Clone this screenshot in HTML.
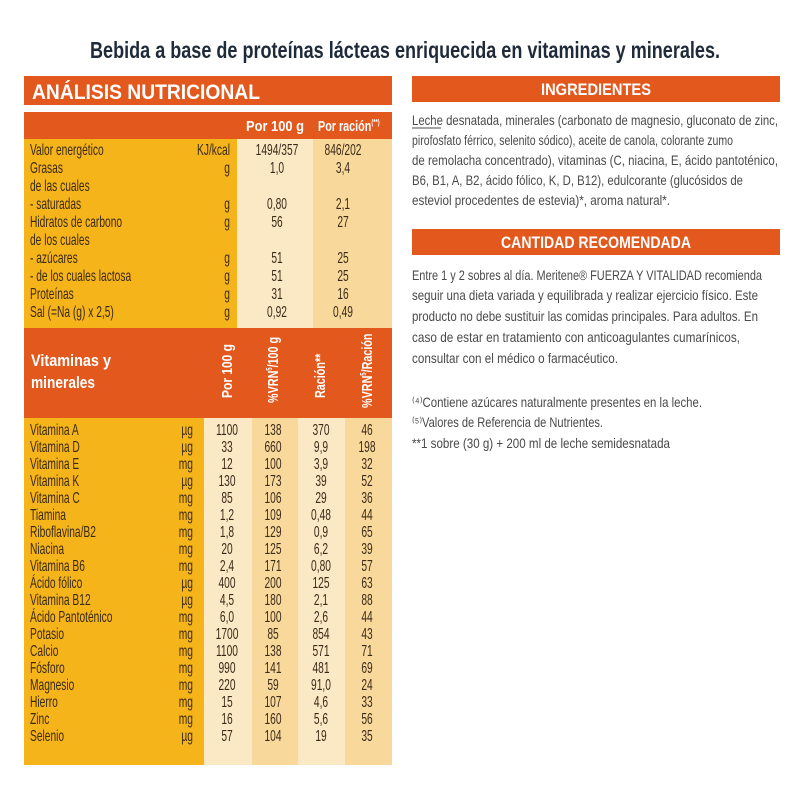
<!DOCTYPE html>
<html><head><meta charset="utf-8"><style>
html,body{margin:0;padding:0;background:#fff}
svg{display:block}
text{font-family:"Liberation Sans",sans-serif}
.t{fill:#3a2a18;font-size:15.5px}
.g{fill:#4a4a4a;font-size:14px}
.w{fill:#fff;font-weight:bold}
</style></head><body>
<svg width="800" height="800" viewBox="0 0 800 800" xmlns="http://www.w3.org/2000/svg">
<text x="405" y="58" text-anchor="middle" font-size="23" font-weight="bold" fill="#1f2b3a" textLength="630" lengthAdjust="spacingAndGlyphs">Bebida a base de proteínas lácteas enriquecida en vitaminas y minerales.</text>

<rect x="24" y="76" width="368" height="29" fill="#e2581d"/>
<text class="w" x="32" y="99" font-size="21" textLength="228" lengthAdjust="spacingAndGlyphs">ANÁLISIS NUTRICIONAL</text>

<rect x="24" y="112" width="368" height="27" fill="#e2581d"/>
<rect x="24" y="139" width="368" height="189" fill="#f6b41b"/>
<rect x="237" y="139" width="76" height="189" fill="#fbe8c4"/>
<rect x="313" y="139" width="79" height="189" fill="#f9d89c"/>
<text class="w" x="275" y="131" font-size="15" text-anchor="middle" textLength="58" lengthAdjust="spacingAndGlyphs">Por 100 g</text>
<g transform="translate(318,131) scale(.72,1)"><text class="w" font-size="15">Por ración<tspan font-size="8" dy="-6">(**)</tspan></text></g>

<g class="t">
<g transform="translate(30,0) scale(.66,1)">
<text y="155">Valor energético</text><text y="173">Grasas</text><text y="191">de las cuales</text><text y="209">- saturadas</text><text y="227">Hidratos de carbono</text><text y="245">de los cuales</text><text y="263">- azúcares</text><text y="281">- de los cuales lactosa</text><text y="299">Proteínas</text><text y="317">Sal (=Na (g) x 2,5)</text>
</g>
<g transform="translate(230,0) scale(.66,1)" text-anchor="end">
<text y="155">KJ/kcal</text><text y="173">g</text><text y="209">g</text><text y="227">g</text><text y="263">g</text><text y="281">g</text><text y="299">g</text><text y="317">g</text>
</g>
<g transform="translate(277,0) scale(.66,1)" text-anchor="middle">
<text y="155">1494/357</text><text y="173">1,0</text><text y="209">0,80</text><text y="227">56</text><text y="263">51</text><text y="281">51</text><text y="299">31</text><text y="317">0,92</text>
</g>
<g transform="translate(343,0) scale(.66,1)" text-anchor="middle">
<text y="155">846/202</text><text y="173">3,4</text><text y="209">2,1</text><text y="227">27</text><text y="263">25</text><text y="281">25</text><text y="299">16</text><text y="317">0,49</text>
</g>
</g>

<rect x="24" y="328" width="368" height="90" fill="#e2581d"/>
<rect x="24" y="418" width="368" height="347" fill="#f6b41b"/>
<rect x="204" y="418" width="48" height="347" fill="#fbe8c4"/>
<rect x="252" y="418" width="46" height="347" fill="#f9d89c"/>
<rect x="298" y="418" width="47" height="347" fill="#fbe8c4"/>
<rect x="345" y="418" width="47" height="347" fill="#f9d89c"/>
<text class="w" x="31" y="366" font-size="17" textLength="80" lengthAdjust="spacingAndGlyphs">Vitaminas y</text>
<text class="w" x="31" y="388" font-size="17" textLength="64" lengthAdjust="spacingAndGlyphs">minerales</text>
<g transform="translate(232,398) rotate(-90) scale(.8,1)"><text class="w" font-size="15">Por 100 g</text></g>
<g transform="translate(278,403) rotate(-90) scale(.72,1)"><text class="w" font-size="15">%VRN<tspan font-size="8" dy="-6">5</tspan><tspan dy="6">/100 g</tspan></text></g>
<g transform="translate(325,398) rotate(-90) scale(.72,1)"><text class="w" font-size="15">Ración**</text></g>
<g transform="translate(372,408) rotate(-90) scale(.72,1)"><text class="w" font-size="15">%VRN<tspan font-size="8" dy="-6">5</tspan><tspan dy="6">/Ración</tspan></text></g>

<g class="t">
<g transform="translate(30,0) scale(.66,1)">
<text y="435">Vitamina A</text><text y="452">Vitamina D</text><text y="469">Vitamina E</text><text y="486">Vitamina K</text><text y="503">Vitamina C</text><text y="520">Tiamina</text><text y="537">Riboflavina/B2</text><text y="554">Niacina</text><text y="571">Vitamina B6</text><text y="588">Ácido fólico</text><text y="605">Vitamina B12</text><text y="622">Ácido Pantoténico</text><text y="639">Potasio</text><text y="656">Calcio</text><text y="673">Fósforo</text><text y="690">Magnesio</text><text y="707">Hierro</text><text y="724">Zinc</text><text y="741">Selenio</text>
</g>
<g transform="translate(193,0) scale(.66,1)" text-anchor="end">
<text y="435">µg</text><text y="452">µg</text><text y="469">mg</text><text y="486">µg</text><text y="503">mg</text><text y="520">mg</text><text y="537">mg</text><text y="554">mg</text><text y="571">mg</text><text y="588">µg</text><text y="605">µg</text><text y="622">mg</text><text y="639">mg</text><text y="656">mg</text><text y="673">mg</text><text y="690">mg</text><text y="707">mg</text><text y="724">mg</text><text y="741">µg</text>
</g>
<g transform="translate(227,0) scale(.66,1)" text-anchor="middle">
<text y="435">1100</text><text y="452">33</text><text y="469">12</text><text y="486">130</text><text y="503">85</text><text y="520">1,2</text><text y="537">1,8</text><text y="554">20</text><text y="571">2,4</text><text y="588">400</text><text y="605">4,5</text><text y="622">6,0</text><text y="639">1700</text><text y="656">1100</text><text y="673">990</text><text y="690">220</text><text y="707">15</text><text y="724">16</text><text y="741">57</text>
</g>
<g transform="translate(273,0) scale(.66,1)" text-anchor="middle">
<text y="435">138</text><text y="452">660</text><text y="469">100</text><text y="486">173</text><text y="503">106</text><text y="520">109</text><text y="537">129</text><text y="554">125</text><text y="571">171</text><text y="588">200</text><text y="605">180</text><text y="622">100</text><text y="639">85</text><text y="656">138</text><text y="673">141</text><text y="690">59</text><text y="707">107</text><text y="724">160</text><text y="741">104</text>
</g>
<g transform="translate(321,0) scale(.66,1)" text-anchor="middle">
<text y="435">370</text><text y="452">9,9</text><text y="469">3,9</text><text y="486">39</text><text y="503">29</text><text y="520">0,48</text><text y="537">0,9</text><text y="554">6,2</text><text y="571">0,80</text><text y="588">125</text><text y="605">2,1</text><text y="622">2,6</text><text y="639">854</text><text y="656">571</text><text y="673">481</text><text y="690">91,0</text><text y="707">4,6</text><text y="724">5,6</text><text y="741">19</text>
</g>
<g transform="translate(367,0) scale(.66,1)" text-anchor="middle">
<text y="435">46</text><text y="452">198</text><text y="469">32</text><text y="486">52</text><text y="503">36</text><text y="520">44</text><text y="537">65</text><text y="554">39</text><text y="571">57</text><text y="588">63</text><text y="605">88</text><text y="622">44</text><text y="639">43</text><text y="656">71</text><text y="673">69</text><text y="690">24</text><text y="707">33</text><text y="724">56</text><text y="741">35</text>
</g>
</g>

<rect x="412" y="76" width="368" height="26" fill="#e2581d"/>
<text class="w" x="596" y="95" font-size="17" text-anchor="middle" textLength="110" lengthAdjust="spacingAndGlyphs">INGREDIENTES</text>
<g class="g">
<text x="412" y="125" textLength="366" lengthAdjust="spacingAndGlyphs">Leche desnatada, minerales (carbonato de magnesio, gluconato de zinc,</text>
<line x1="412" y1="128" x2="441" y2="128" stroke="#4a4a4a" stroke-width="1"/>
<text x="412" y="145" textLength="321" lengthAdjust="spacingAndGlyphs">pirofosfato férrico, selenito sódico), aceite de canola, colorante zumo</text>
<text x="412" y="165" textLength="366" lengthAdjust="spacingAndGlyphs">de remolacha concentrado), vitaminas (C, niacina, E, ácido pantoténico,</text>
<text x="412" y="185" textLength="331" lengthAdjust="spacingAndGlyphs">B6, B1, A, B2, ácido fólico, K, D, B12), edulcorante (glucósidos de</text>
<text x="412" y="205" textLength="258" lengthAdjust="spacingAndGlyphs">esteviol procedentes de estevia)*, aroma natural*.</text>
</g>
<rect x="412" y="229" width="368" height="26" fill="#e2581d"/>
<text class="w" x="596" y="248" font-size="17" text-anchor="middle" textLength="190" lengthAdjust="spacingAndGlyphs">CANTIDAD RECOMENDADA</text>
<g class="g">
<text x="412" y="280" textLength="350" lengthAdjust="spacingAndGlyphs">Entre 1 y 2 sobres al día. Meritene® FUERZA Y VITALIDAD recomienda</text>
<text x="412" y="300" textLength="346" lengthAdjust="spacingAndGlyphs">seguir una dieta variada y equilibrada y realizar ejercicio físico. Este</text>
<text x="412" y="321" textLength="346" lengthAdjust="spacingAndGlyphs">producto no debe sustituir las comidas principales. Para adultos. En</text>
<text x="412" y="342" textLength="328" lengthAdjust="spacingAndGlyphs">caso de estar en tratamiento con anticoagulantes cumarínicos,</text>
<text x="412" y="363" textLength="206" lengthAdjust="spacingAndGlyphs">consultar con el médico o farmacéutico.</text>
<text x="412" y="407" textLength="290" lengthAdjust="spacingAndGlyphs">⁽⁴⁾Contiene azúcares naturalmente presentes en la leche.</text>
<text x="412" y="427" textLength="191" lengthAdjust="spacingAndGlyphs">⁽⁵⁾Valores de Referencia de Nutrientes.</text>
<text x="412" y="448" textLength="258" lengthAdjust="spacingAndGlyphs">**1 sobre (30 g) + 200 ml de leche semidesnatada</text>
</g>
</svg>
</body></html>
